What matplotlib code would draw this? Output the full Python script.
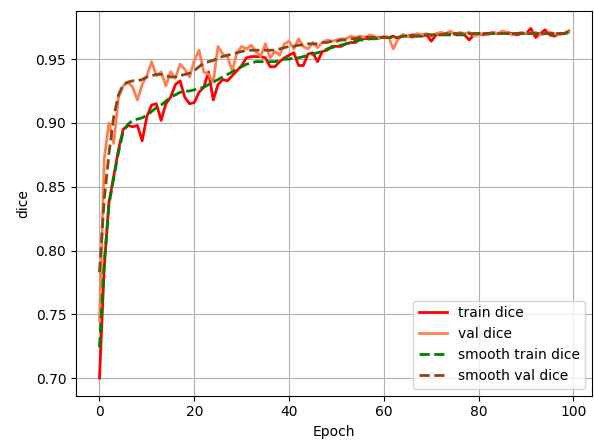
import numpy as np
import matplotlib
matplotlib.use("Agg")
import matplotlib.pyplot as plt

# dice per epoch
train_dice = [
    0.700, 0.787, 0.838, 0.858, 0.879, 0.895, 0.898, 0.897, 0.898, 0.886,
    0.905, 0.914, 0.915, 0.902, 0.915, 0.920, 0.930, 0.933, 0.920, 0.915,
    0.916, 0.924, 0.928, 0.940, 0.918, 0.930, 0.934, 0.933, 0.937, 0.941,
    0.945, 0.951, 0.952, 0.952, 0.952, 0.951, 0.944, 0.944, 0.948, 0.951,
    0.953, 0.955, 0.945, 0.945, 0.954, 0.955, 0.948, 0.956, 0.957, 0.960,
    0.960, 0.960, 0.962, 0.963, 0.963, 0.966, 0.966, 0.966, 0.966, 0.967,
    0.967, 0.967, 0.968, 0.966, 0.969, 0.968, 0.969, 0.969, 0.968, 0.969,
    0.964, 0.969, 0.970, 0.970, 0.971, 0.970, 0.970, 0.969, 0.965, 0.969,
    0.970, 0.969, 0.970, 0.971, 0.970, 0.970, 0.971, 0.970, 0.969, 0.970,
    0.970, 0.974, 0.967, 0.970, 0.973, 0.969, 0.968, 0.970, 0.970, 0.972,
]
val_dice = [
    0.745, 0.872, 0.900, 0.884, 0.920, 0.929, 0.932, 0.928, 0.918, 0.930,
    0.937, 0.948, 0.937, 0.940, 0.929, 0.940, 0.935, 0.946, 0.942, 0.936,
    0.949, 0.957, 0.940, 0.938, 0.932, 0.960, 0.954, 0.952, 0.941, 0.955,
    0.960, 0.958, 0.961, 0.956, 0.952, 0.962, 0.951, 0.956, 0.953, 0.962,
    0.964, 0.958, 0.966, 0.960, 0.958, 0.963, 0.959, 0.963, 0.965, 0.964,
    0.965, 0.966, 0.966, 0.968, 0.967, 0.968, 0.967, 0.969, 0.968, 0.966,
    0.968, 0.967, 0.958, 0.966, 0.969, 0.968, 0.967, 0.970, 0.969, 0.970,
    0.968, 0.970, 0.971, 0.970, 0.972, 0.969, 0.971, 0.970, 0.971, 0.968,
    0.969, 0.970, 0.969, 0.971, 0.970, 0.972, 0.971, 0.969, 0.970, 0.971,
    0.970, 0.970, 0.971, 0.969, 0.970, 0.971, 0.970, 0.969, 0.970, 0.971,
]
smooth_train = [
    0.724, 0.790, 0.836, 0.857, 0.877, 0.893, 0.899, 0.902, 0.903, 0.904,
    0.906, 0.909, 0.912, 0.914, 0.917, 0.920, 0.922, 0.924, 0.925, 0.925,
    0.926, 0.927, 0.928, 0.930, 0.932, 0.934, 0.936, 0.938, 0.940, 0.942,
    0.944, 0.946, 0.947, 0.948, 0.948, 0.948, 0.948, 0.948, 0.949, 0.950,
    0.950, 0.951, 0.951, 0.952, 0.953, 0.954, 0.955, 0.956, 0.958, 0.959,
    0.960, 0.961, 0.962, 0.963, 0.964, 0.965, 0.965, 0.966, 0.966, 0.966,
    0.967, 0.967, 0.967, 0.967, 0.968, 0.968, 0.968, 0.968, 0.968, 0.969,
    0.969, 0.969, 0.969, 0.969, 0.969, 0.969, 0.969, 0.969, 0.969, 0.970,
    0.970, 0.970, 0.970, 0.970, 0.970, 0.970, 0.970, 0.970, 0.970, 0.970,
    0.970, 0.970, 0.970, 0.970, 0.970, 0.970, 0.970, 0.970, 0.970, 0.971,
]
smooth_val = [
    0.783, 0.840, 0.876, 0.905, 0.922, 0.930, 0.932, 0.933, 0.933, 0.934,
    0.936, 0.937, 0.938, 0.938, 0.937, 0.936, 0.936, 0.937, 0.938, 0.939,
    0.941, 0.944, 0.947, 0.948, 0.949, 0.951, 0.952, 0.953, 0.954, 0.955,
    0.956, 0.957, 0.957, 0.957, 0.957, 0.957, 0.957, 0.957, 0.958, 0.959,
    0.960, 0.960, 0.961, 0.961, 0.962, 0.962, 0.962, 0.963, 0.963, 0.964,
    0.964, 0.965, 0.965, 0.966, 0.966, 0.967, 0.967, 0.967, 0.967, 0.967,
    0.967, 0.967, 0.967, 0.967, 0.968, 0.968, 0.968, 0.968, 0.969, 0.969,
    0.969, 0.969, 0.969, 0.970, 0.970, 0.970, 0.970, 0.970, 0.970, 0.970,
    0.970, 0.970, 0.970, 0.970, 0.970, 0.970, 0.970, 0.970, 0.970, 0.970,
    0.970, 0.970, 0.970, 0.970, 0.970, 0.970, 0.970, 0.970, 0.970, 0.971,
]
epochs = np.arange(len(train_dice))

fig = plt.figure(figsize=(5.94, 4.41), dpi=100)
ax = fig.add_axes([0.128, 0.103, 0.869, 0.872])

ax.plot(epochs, train_dice, color='red', linewidth=2, label='train dice')
ax.plot(epochs, val_dice, color='coral', linewidth=2, label='val dice')
ax.plot(epochs, smooth_train, color='green', linestyle='--', linewidth=2, label='smooth train dice')
ax.plot(epochs, smooth_val, color='saddlebrown', linestyle='--', linewidth=2, label='smooth val dice')

ax.set_xlabel('Epoch')
ax.set_ylabel('dice')
ax.grid(True)
ax.legend(loc='lower right')

fig.savefig('out.png', dpi=100)
